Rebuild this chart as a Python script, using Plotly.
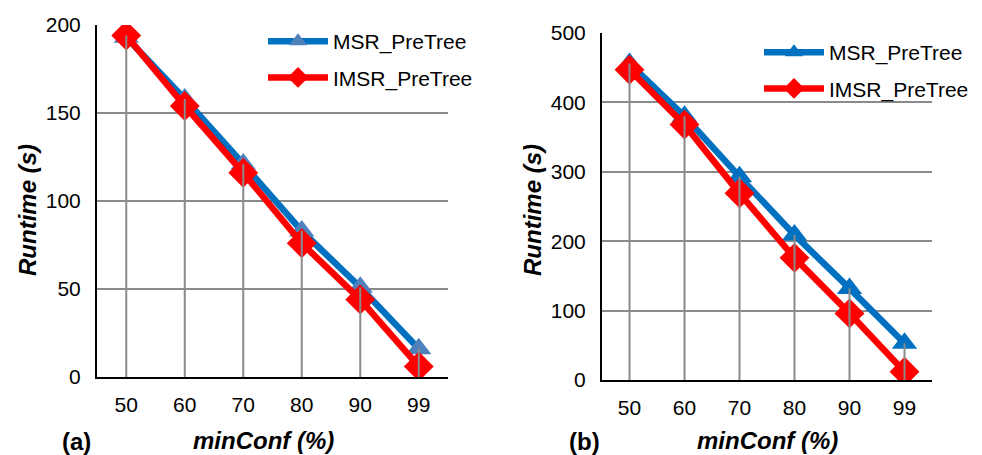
import plotly.graph_objects as go

categories = ["50", "60", "70", "80", "90", "99"]
msr_a = [193, 158, 121, 83, 51, 16]
imsr_a = [194, 154, 116, 76, 44, 6]
msr_b = [456, 380, 293, 209, 132, 53]
imsr_b = [447, 368, 269, 176, 96, 12]
series_names = ["MSR_PreTree", "IMSR_PreTree"]
yticks_a = [0, 50, 100, 150, 200]
yticks_b = [0, 100, 200, 300, 400, 500]

BLUE = "#0070C0"
BLUE_A_MARK = "#4F81BD"
RED = "#FF0000"
GRAY = "#8a8a8a"
FONT = "Liberation Sans, Arial, sans-serif"

# page body has an 8px margin; offset the layout so it lands where the reference has it
OFF = 8
W, H = 982 - OFF, 455 - OFF

fig = go.Figure()

def add_panel(msr, imsr, xa, ya, legend, tri_color, tag):
    fig.add_trace(go.Scatter(
        x=categories, y=msr, name=series_names[0], mode="lines+markers",
        line=dict(color=BLUE, width=6.5),
        marker=dict(symbol="triangle-up", size=22, color=tri_color),
        xaxis=xa, yaxis=ya, legend=legend, legendgroup=tag + "m"))
    fig.add_trace(go.Scatter(
        x=categories, y=imsr, name=series_names[1], mode="lines+markers",
        line=dict(color=RED, width=6.5),
        marker=dict(symbol="diamond", size=23, color=RED),
        xaxis=xa, yaxis=ya, legend=legend, legendgroup=tag + "i"))
    dx, dy = [], []
    for c, a, b in zip(categories, msr, imsr):
        dx += [c, c, None]
        dy += [0, max(a, b), None]
    fig.add_trace(go.Scatter(
        x=dx, y=dy, mode="lines", line=dict(color=GRAY, width=2),
        showlegend=False, hoverinfo="skip", xaxis=xa, yaxis=ya))

add_panel(msr_a, imsr_a, "x", "y", "legend", BLUE_A_MARK, "a")
add_panel(msr_b, imsr_b, "x2", "y2", "legend2", BLUE, "b")

def px_x(p):
    return (p - OFF) / W

def px_y(p):
    return (H - (p - OFF)) / H

xcommon = dict(type="category", range=[-0.5, 5.5], showline=True, linecolor="black",
               linewidth=2, showgrid=False, ticks="", tickfont=dict(family=FONT, size=21, color="black"),
               ticklabelstandoff=8, zeroline=False, fixedrange=True, automargin=False)
ycommon = dict(showline=True, linecolor="black", linewidth=2, showgrid=True,
               gridcolor=GRAY, gridwidth=1.5, ticks="", zeroline=False,
               tickfont=dict(family=FONT, size=21, color="black"), ticklabelstandoff=10,
               fixedrange=True, automargin=False)

leg = dict(xanchor="left", yanchor="top", bgcolor="rgba(0,0,0,0)",
           font=dict(family=FONT, size=21), tracegroupgap=6, itemwidth=60)

fig.update_layout(
    width=W, height=H,
    margin=dict(l=0, r=0, t=0, b=0, autoexpand=False),
    paper_bgcolor="white", plot_bgcolor="white",
    font=dict(family=FONT, color="black"),
    xaxis=dict(domain=[px_x(97), px_x(448)], anchor="y", **xcommon),
    yaxis=dict(domain=[px_y(377), px_y(25)], anchor="x", range=[0, 200],
               tickvals=yticks_a, **ycommon),
    xaxis2=dict(domain=[px_x(602), px_x(932)], anchor="y2", **xcommon),
    yaxis2=dict(domain=[px_y(380), px_y(33)], anchor="x2", range=[0, 500],
                tickvals=yticks_b, **ycommon),
    legend=dict(x=px_x(263), y=px_y(21), **leg),
    legend2=dict(x=px_x(759), y=px_y(32), **leg),
    showlegend=True,
)

annos = [
    dict(text="<b><i>Runtime (s)</i></b>", x=px_x(27), y=px_y(210), textangle=-90, size=24),
    dict(text="<b><i>Runtime (s)</i></b>", x=px_x(532), y=px_y(210), textangle=-90, size=24),
    dict(text="<b><i>minConf (%)</i></b>", x=px_x(263), y=px_y(440), size=24),
    dict(text="<b><i>minConf (%)</i></b>", x=px_x(767), y=px_y(440), size=24),
    dict(text="<b>(a)</b>", x=px_x(76), y=px_y(441), size=24),
    dict(text="<b>(b)</b>", x=px_x(584), y=px_y(441), size=24),
]
for a in annos:
    s = a.pop("size")
    fig.add_annotation(xref="paper", yref="paper", showarrow=False,
                       xanchor="center", yanchor="middle",
                       font=dict(family=FONT, size=s, color="black"), **a)

fig.write_html("out.html")
